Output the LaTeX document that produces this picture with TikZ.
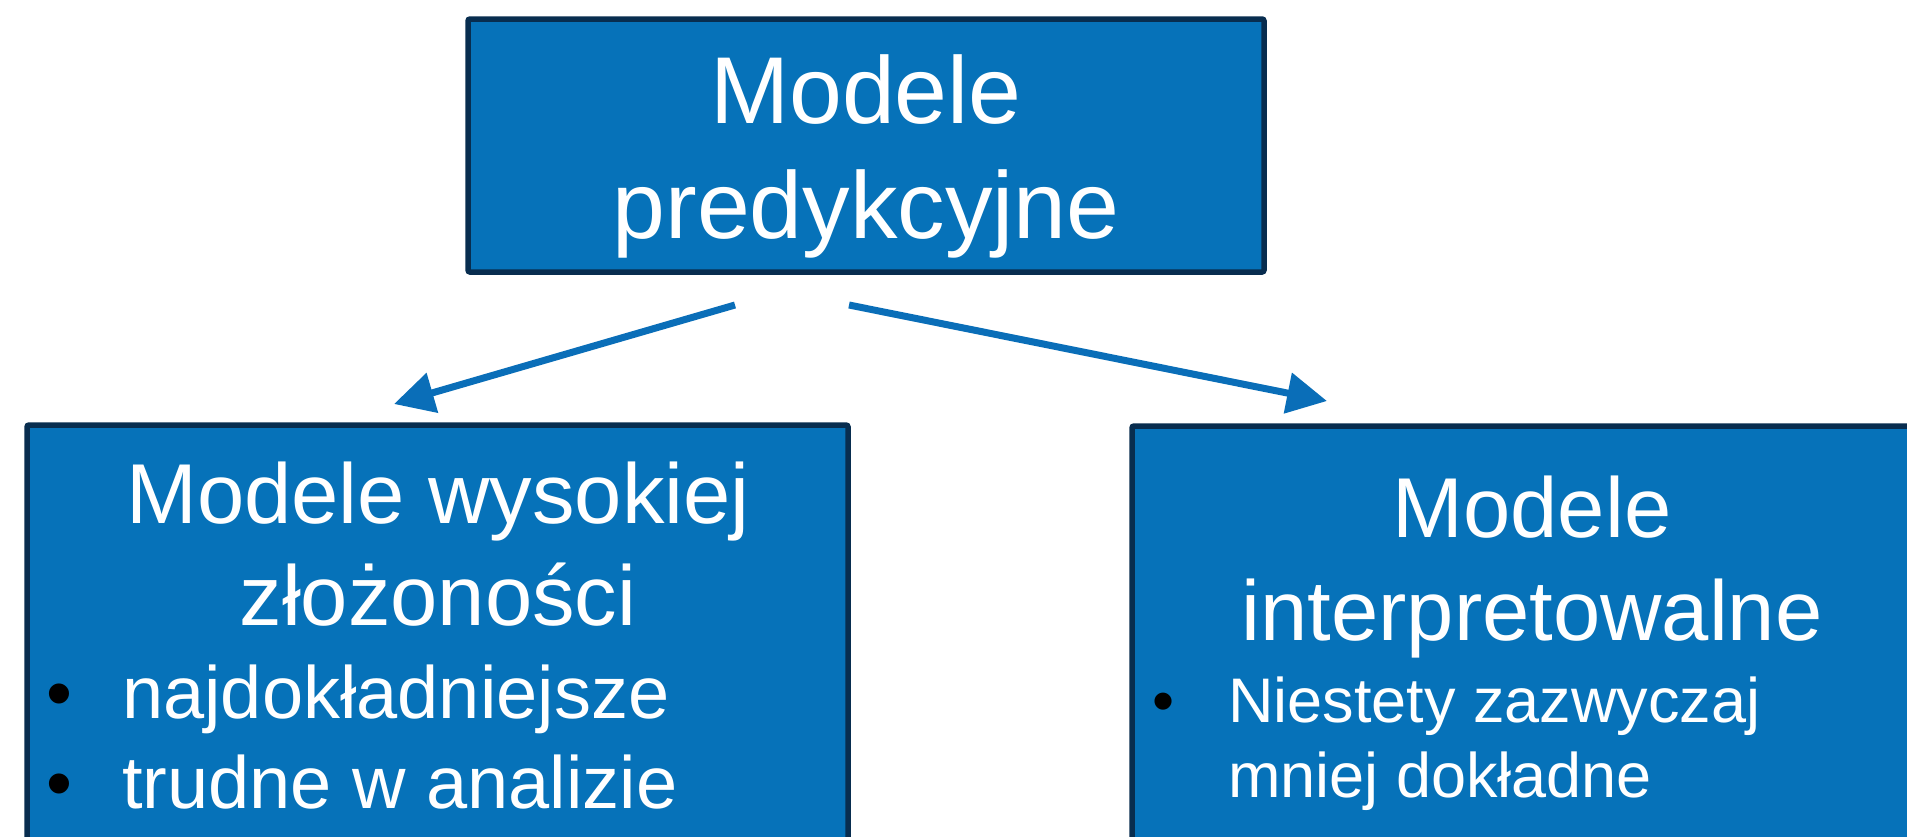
\documentclass[tikz,border=0pt]{standalone}
\usepackage{fontspec}
\setmainfont{Liberation Sans}
\usetikzlibrary{arrows.meta}
\definecolor{boxfill}{HTML}{0672B9}
\definecolor{boxedge}{HTML}{082D4F}
\definecolor{arrowblue}{HTML}{0A6EB8}
\begin{document}
\begin{tikzpicture}[x=1pt,y=-1pt,
  box/.style={draw=boxedge,fill=boxfill,line width=5.5pt,rounded corners=2pt,inner sep=0pt},
  bigtxt/.style={text=white,inner sep=0pt,anchor=base,font=\fontsize{95pt}{114pt}\selectfont},
  headtxt/.style={text=white,inner sep=0pt,anchor=base,font=\fontsize{85pt}{102pt}\selectfont},
  itemtxt/.style={text=white,inner sep=0pt,anchor=base west,font=\fontsize{74pt}{89pt}\selectfont},
  smalltxt/.style={text=white,inner sep=0pt,anchor=base west,font=\fontsize{63pt}{76pt}\selectfont},
  dotbig/.style={text=black,inner sep=0pt,anchor=base,font=\fontsize{74pt}{89pt}\selectfont},
  dotsmall/.style={text=black,inner sep=0pt,anchor=base,font=\fontsize{63pt}{76pt}\selectfont},
  conn/.style={draw=arrowblue,line width=7pt,-{Triangle[length=40pt,width=40pt]}}]
\useasboundingbox (0,0) rectangle (1907,836);
\clip (0,0) rectangle (1907,836);

% boxes
\node[box,minimum width=796pt,minimum height=253pt] (top) at (866,145.5) {};
\node[box,minimum width=821pt,minimum height=475pt] (left) at (437.5,662.5) {};
\node[box,minimum width=803pt,minimum height=474pt] (right) at (1533.5,663) {};

% top box text
\node[bigtxt] (t1) at (866,123) {Modele};
\node[bigtxt] (t2) at (866,238) {predykcyjne};

% left box text
\node[headtxt] (l1) at (438,523) {Modele wysokiej};
\node[headtxt] (l2) at (438,625) {złożoności};
\node[dotbig] (lb1) at (59,718) {•};
\node[itemtxt] (li1) at (122,718) {najdokładniejsze};
\node[dotbig] (lb2) at (59,808) {•};
\node[itemtxt] (li2) at (122,808) {trudne w analizie};

% right box text
\node[headtxt] (r1) at (1532,537) {Modele};
\node[headtxt] (r2) at (1532,640) {interpretowalne};
\node[dotsmall] (rb1) at (1163.5,722) {•};
\node[smalltxt] (ri1) at (1228,722) {Niestety zazwyczaj};
\node[smalltxt] (ri2) at (1228,797) {mniej dokładne};

% connectors
\coordinate (la) at (735,305);
\coordinate (lb) at (394,404);
\coordinate (ra) at (849,305);
\coordinate (rb) at (1327,401);
\draw[conn] (la) -- (lb);
\draw[conn] (ra) -- (rb);
\end{tikzpicture}
\end{document}
